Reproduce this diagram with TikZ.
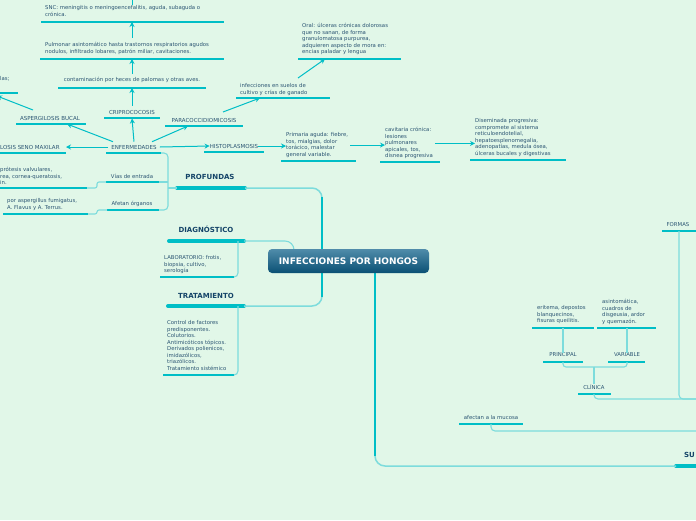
\documentclass[tikz,border=0pt]{standalone}
\usepackage{fontspec}
\setmainfont{DejaVu Sans}
\usetikzlibrary{arrows.meta}
\definecolor{bgmint}{RGB}{225,247,232}
\definecolor{tealline}{RGB}{0,190,198}
\definecolor{lightteal}{RGB}{125,220,220}
\definecolor{txtblue}{RGB}{42,84,114}
\definecolor{navy}{RGB}{20,68,104}
\definecolor{roottop}{RGB}{80,140,170}
\definecolor{rootbot}{RGB}{10,80,116}

\begin{document}
\begin{tikzpicture}[x=1pt, y=-1pt,
    small/.style={font=\fontsize{5.35}{6.5}\selectfont, text=txtblue, inner sep=0pt, align=left},
    tag/.style={font=\fontsize{5.5}{6.5}\selectfont, text=txtblue, inner sep=0pt},
    head/.style={font=\fontsize{7}{8}\selectfont\bfseries, text=navy, inner sep=0pt},
    central/.style={rectangle, rounded corners=4pt, top color=roottop, bottom color=rootbot,
        minimum width=161pt, minimum height=24pt, text=white, font=\fontsize{9}{10}\selectfont\bfseries},
    uline/.style={draw=tealline, line width=2pt},
    bigline/.style={draw=tealline, line width=4pt, line cap=round},
    trunk/.style={draw=tealline, line width=2.2pt},
    twig/.style={draw=lightteal, line width=1.1pt, rounded corners=4pt},
    arr/.style={draw=tealline, line width=1pt, -{Stealth[length=5pt,width=5pt]}}]

    % background and page
    \fill[bgmint] (0,0) rectangle (696,520);
    \useasboundingbox (0,0) rectangle (696,520);

    % underlines of the topics
    \draw[uline] (41,22) coordinate (snc-l) -- (224,22) coordinate (snc-r);
    \draw[uline] (40,59) coordinate (pulm-l) -- (224,59) coordinate (pulm-r);
    \draw[uline] (58,88) coordinate (cont-l) -- (206,88) coordinate (cont-r);
    \draw[uline] (0,93) coordinate (las-l) -- (18,93) coordinate (las-r);
    \draw[uline] (104,118) coordinate (crip-l) -- (160,118) coordinate (crip-r);
    \draw[uline] (16,124) coordinate (asb-l) -- (86,124) coordinate (asb-r);
    \draw[uline] (165,126) coordinate (para-l) -- (243,126) coordinate (para-r);
    \draw[uline] (236,98) coordinate (suelo-l) -- (330,98) coordinate (suelo-r);
    \draw[uline] (298,59) coordinate (oral-l) -- (401,59) coordinate (oral-r);
    \draw[uline] (0,153) coordinate (asm-l) -- (66,153) coordinate (asm-r);
    \draw[uline] (106,153) coordinate (enf-l) -- (161,153) coordinate (enf-r);
    \draw[uline] (204,152) coordinate (histo-l) -- (264,152) coordinate (histo-r);
    \draw[uline] (281,161) coordinate (prim-l) -- (356,161) coordinate (prim-r);
    \draw[uline] (380,162) coordinate (cav-l) -- (440,162) coordinate (cav-r);
    \draw[uline] (470,160) coordinate (dis-l) -- (566,160) coordinate (dis-r);
    \draw[uline] (106,182) coordinate (vias-l) -- (159,182) coordinate (vias-r);
    \draw[uline] (0,188) coordinate (pro-l) -- (87,188) coordinate (pro-r);
    \draw[uline] (107,210) coordinate (afe-l) -- (159,210) coordinate (afe-r);
    \draw[uline] (3,214) coordinate (asp-l) -- (88,214) coordinate (asp-r);
    \draw[uline] (160,277) coordinate (lab-l) -- (234,277) coordinate (lab-r);
    \draw[uline] (163,375) coordinate (ctrl-l) -- (234,375) coordinate (ctrl-r);
    \draw[uline] (662,231) coordinate (form-l) -- (700,231) coordinate (form-r);
    \draw[uline] (532,328) coordinate (eri-l) -- (594,328) coordinate (eri-r);
    \draw[uline] (597,328) coordinate (asin-l) -- (656,328) coordinate (asin-r);
    \draw[uline] (543,362) coordinate (prin-l) -- (583,362) coordinate (prin-r);
    \draw[uline] (608,362) coordinate (var-l) -- (645,362) coordinate (var-r);
    \draw[uline] (578,394) coordinate (cli-l) -- (611,394) coordinate (cli-r);
    \draw[uline] (459,424) coordinate (muc-l) -- (523,424) coordinate (muc-r);

    % main branches
    \draw[bigline] (177,188) coordinate (prof-l) -- (245,188) coordinate (prof-r);
    \draw[bigline] (169,241) coordinate (diag-l) -- (244,241) coordinate (diag-r);
    \draw[bigline] (168,306) coordinate (trat-l) -- (244,306) coordinate (trat-r);
    \draw[bigline] (676,466) coordinate (sup-l) -- (710,466) coordinate (sup-r);

    % junction points
    \coordinate (tk) at (322,261);
    \coordinate (tk2) at (375,261);
    \coordinate (rj) at (294,249);
    \coordinate (pj) at (168,188);
    \coordinate (dj) at (238,241);
    \coordinate (tj) at (238,306);
    \coordinate (cj) at (594,367);
    \coordinate (offR1) at (710,399);
    \coordinate (offR2) at (710,431);
    \coordinate (offL) at (-3,96);
    \coordinate (offT) at (132,-9);
    \coordinate (crip-c) at (132,118.5);
    \coordinate (asb-c) at (67,124);
    \coordinate (asb-t) at (33,110);
    \coordinate (para-c) at (188,126);
    \coordinate (para-t) at (223,112);
    \coordinate (suelo-c) at (260,98);
    \coordinate (suelo-t) at (298,78);
    \coordinate (oral-c) at (325,59);
    \coordinate (form-c) at (679,231);
    \coordinate (eri-c) at (563,328);
    \coordinate (asin-c) at (627,328);
    \coordinate (prin-c) at (563,362);
    \coordinate (var-c) at (627,362);
    \coordinate (cli-c) at (594,394);
    \coordinate (muc-c) at (491,424);

    % trunks from the root
    \draw[twig, line width=1.5pt, rounded corners=10pt] (prof-r) -| (tk);
    \draw[twig, line width=1.5pt, rounded corners=10pt] (trat-r) -| (tk);
    \draw[trunk] (322,197) -- (tk) -- (322,297);
    \draw[twig, line width=1.5pt, rounded corners=10pt] (tk2) |- (sup-l);
    \draw[trunk] (tk2) -- (375,456);
    \draw[twig, rounded corners=9pt] (diag-r) -| (rj);

    % PROFUNDAS
    \draw[twig] (enf-r) -| (pj);
    \draw[twig] (afe-r) -| (pj);
    \draw[twig] (vias-r) -- (vias-r -| pj);
    \draw[twig] (pj) -- (prof-l);
    \draw[twig, rounded corners=2pt] (vias-l) -- (97,182) -- (97,188) -- (pro-r);
    \draw[twig, rounded corners=2pt] (afe-l) -- (97,210) -- (97,214) -- (asp-r);

    % DIAGNOSTICO and TRATAMIENTO
    \draw[twig] (dj) |- (lab-r);
    \draw[twig] (tj) |- (ctrl-r);

    % superficiales side
    \draw[twig] (form-c) |- (offR1);
    \draw[twig] (cli-c) |- (offR1);
    \draw[twig] (muc-c) |- (offR2);
    \draw[twig, rounded corners=3pt] (cj) -| (prin-c);
    \draw[twig, rounded corners=3pt] (cj) -| (var-c);

    % texts
    \node[small, anchor=north west] (snc) at (45,5.5) {SNC: meningitis o meningoencefalitis, aguda, subaguda o\\crónica.};
    \node[small, anchor=north west] (pulm) at (45,42.5) {Pulmonar asintomático hasta trastornos respiratorios agudos\\nodulos, infiltrado lobares, patrón miliar, cavitaciones.};
    \node[small] (cont) at (132,80) {contaminación por heces de palomas y otras aves.};
    \node[small, anchor=west] (las) at (0,79) {las;};
    \node[tag] (crip) at (132,112) {CRIPROCOCOSIS};
    \node[tag] (asb) at (50,118) {ASPERGILOSIS BUCAL};
    \node[tag] (para) at (204,120) {PARACOCCIDIOMICOSIS};
    \node[small, anchor=north west] (suelo) at (240,83.5) {infecciones en suelos de\\cultivo y crías de ganado};
    \node[small, anchor=north west] (oral) at (302,23.5) {Oral: úlceras crónicas dolorosas\\que no sanan, de forma\\granulomatosa purpurea,\\adquieren aspecto de mora en:\\encias paladar y lengua};
    \node[tag, anchor=west] (asm) at (0,147) {LOSIS SENO MAXILAR};
    \node[tag] (enf) at (134,147) {ENFERMEDADES};
    \node[tag] (histo) at (234,146) {HISTOPLASMOSIS};
    \node[small, anchor=north west] (prim) at (286,132.5) {Primaria aguda: fiebre,\\tos, mialgias, dolor\\torácico, malestar\\general variable.};
    \node[small, anchor=north west] (cav) at (385,127.5) {cavitaria crónica:\\lesiones\\pulmonares\\apicales, tos,\\disnea progresiva};
    \node[small, anchor=north west] (dis) at (475,118.5) {Diseminada progresiva:\\compromete al sistema\\reticuloendotelial,\\hepatoesplenomegalia,\\adenopatías, medula ósea,\\úlceras bucales y digestivas};
    \node[small] (vias) at (132,176) {Vías de entrada};
    \node[small, anchor=north west] (pro) at (0,167.5) {prótesis valvulares,\\rea, cornea-queratosis,\\in.};
    \node[small] (afe) at (132,204) {Afetan órganos};
    \node[small, anchor=north west] (asp) at (7,198.5) {por aspergillus fumigatus,\\A. Flavus y A. Terrus.};
    \node[head] (prof) at (210,177) {PROFUNDAS};
    \node[head] (diag) at (206,229) {DIAGNÓSTICO};
    \node[small, anchor=north west] (lab) at (164,255.5) {LABORATORIO: frotis,\\biopsia, cultivo,\\serología};
    \node[head] (trat) at (206,296) {TRATAMIENTO};
    \node[small, anchor=north west] (ctrl) at (167,320.5) {Control de factores\\predisponentes.\\Colutorios.\\Antimicóticos tópicos.\\Derivados polienicos,\\imidazólicos,\\triazólicos.\\Tratamiento sistémico};
    \node[small] (form) at (678,225) {FORMAS};
    \node[small, anchor=north west] (eri) at (537,305.5) {eritema, depostos\\blanquecinos,\\fisuras queilitis.};
    \node[small, anchor=north west] (asin) at (602,299.5) {asintomática,\\cuadros de\\disgeusia, ardor\\y quemazón.};
    \node[small] (prin) at (563,355) {PRINCIPAL};
    \node[small] (var) at (627,355) {VARIABLE};
    \node[small] (cli) at (594,387) {CLÍNICA};
    \node[small] (muc) at (491,417) {afectan a la mucosa};
    \node[head, anchor=west] (sup) at (684,455) {SU};

    % arrows between topics
    \draw[arr] ([yshift=3pt]enf.north) -- (crip-c);
    \draw[arr] ([xshift=-21pt,yshift=3pt]enf.north) -- (asb-c);
    \draw[arr] ([xshift=-3pt]enf.west) -- (asm-r |- enf.west);
    \draw[arr] ([xshift=18pt,yshift=3pt]enf.north) -- (para-c);
    \draw[arr] ([xshift=3pt]enf.east) -- (histo.west);
    \draw[arr] ([yshift=4pt]crip.north) -- (cont-l -| crip.north);
    \draw[arr] ([yshift=3pt]cont.north) -- (pulm-l -| cont.north);
    \draw[arr] ([yshift=5pt]pulm.north -| cont.north) -- (snc-l -| cont.north);
    \draw[arr] ([yshift=1pt]snc.north -| cont.north) -- (offT);
    \draw[arr] (asb-t) -- (offL);
    \draw[arr] (para-t) -- (suelo-c);
    \draw[arr] (suelo-t) -- (oral-c);
    \draw[arr] (histo.east) -- (prim.west |- histo.east);
    \draw[arr] ([xshift=2pt]prim.east) -- (cav.west |- prim.east);
    \draw[arr] ([xshift=2pt]cav.east) -- (dis.west |- cav.east);

    % CLINICA branches
    \draw[twig] (cli.north) -- (cj);
    \draw[twig] (prin.north) -- (eri-c);
    \draw[twig] (var.north) -- (asin-c);

    % root
    \node[central] (root) at (348.5,261) {INFECCIONES POR HONGOS};
\end{tikzpicture}
\end{document}
